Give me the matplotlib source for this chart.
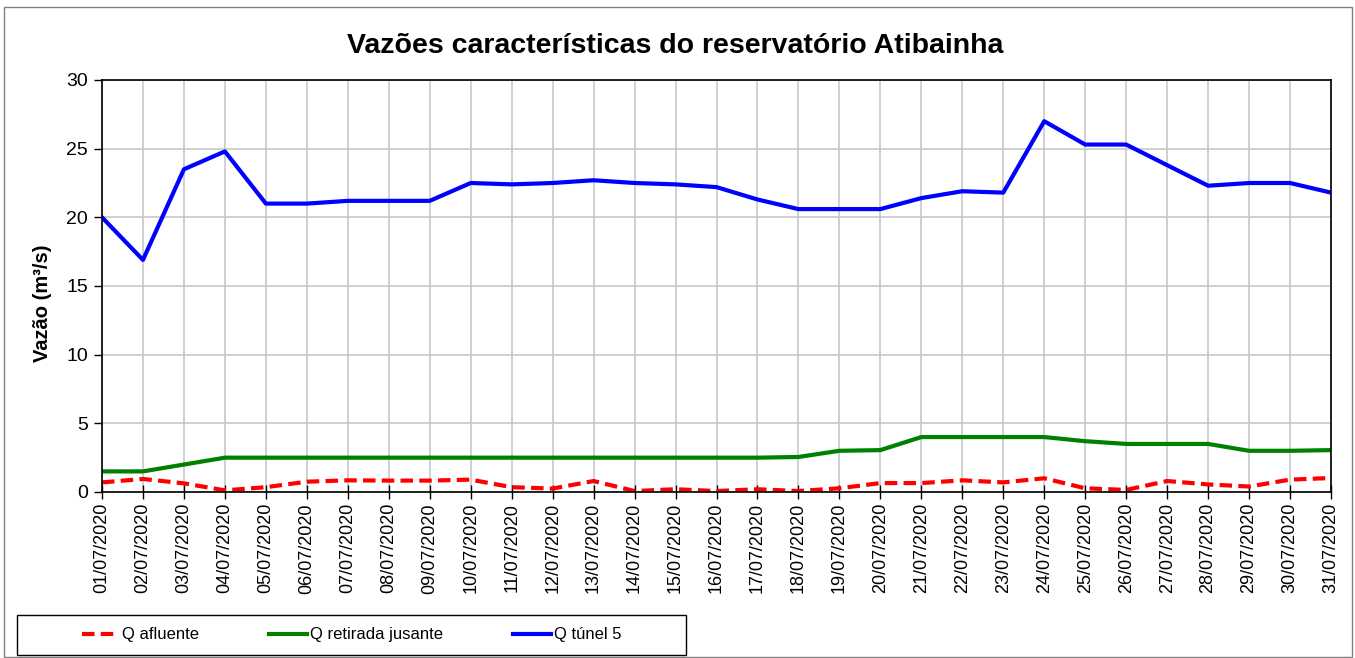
import matplotlib
matplotlib.use("Agg")
import matplotlib.pyplot as plt
from matplotlib.patches import Rectangle

dates = [f"{d:02d}/07/2020" for d in range(1, 32)]

q_afluente = [0.70, 0.95, 0.63, 0.12, 0.35, 0.75, 0.85, 0.83, 0.83, 0.90,
              0.35, 0.25, 0.80, 0.07, 0.20, 0.07, 0.20, 0.07, 0.27, 0.65,
              0.65, 0.85, 0.70, 1.00, 0.27, 0.15, 0.80, 0.55, 0.40, 0.90, 1.02]

q_retirada = [1.5, 1.5, 2.0, 2.5, 2.5, 2.5, 2.5, 2.5, 2.5, 2.5,
              2.5, 2.5, 2.5, 2.5, 2.5, 2.5, 2.5, 2.55, 3.0, 3.05,
              4.0, 4.0, 4.0, 4.0, 3.7, 3.5, 3.5, 3.5, 3.0, 3.0, 3.05]

q_tunel = [20.0, 16.9, 23.5, 24.8, 21.0, 21.0, 21.2, 21.2, 21.2, 22.5,
           22.4, 22.5, 22.7, 22.5, 22.4, 22.2, 21.3, 20.6, 20.6, 20.6,
           21.4, 21.9, 21.8, 27.0, 25.3, 25.3, 23.8, 22.3, 22.5, 22.5, 21.8]

series_labels = ["Q afluente", "Q retirada jusante", "Q túnel 5"]
title = "Vazões características do reservatório Atibainha"
ylabel = "Vazão (m³/s)"

plt.rcParams['font.family'] = ['Liberation Sans', 'DejaVu Sans']

W, H = 1355, 658
fig = plt.figure(figsize=(W / 100, H / 100), dpi=100)
fig.patch.set_facecolor("white")

# outer border
fig.patches.append(Rectangle((4 / W, 1 / H), 1348 / W, 650 / H, transform=fig.transFigure,
                             fill=False, edgecolor="#808080", linewidth=1.0))
# legend box
fig.patches.append(Rectangle((17 / W, 1 - 655 / H), (686 - 17) / W, 40 / H,
                             transform=fig.transFigure, fill=False,
                             edgecolor="black", linewidth=1.0, zorder=5))

ax = fig.add_axes([102 / W, 1 - 492 / H, (1331 - 102) / W, (492 - 80) / H])
x = list(range(len(dates)))

l1, = ax.plot(x, q_afluente, color="#ff0000", lw=3.0, linestyle=(0, (3.0, 1.5)),
              label=series_labels[0])
l2, = ax.plot(x, q_retirada, color="#008000", lw=3.0, label=series_labels[1])
l3, = ax.plot(x, q_tunel, color="#0000ff", lw=3.0, label=series_labels[2])

ax.set_xlim(0, len(dates) - 1)
ax.set_ylim(0, 30)
ax.set_yticks(range(0, 31, 5))
ax.set_xticks(x)
ax.set_xticklabels(dates, rotation=90, fontsize=13)
ax.tick_params(axis='y', labelsize=14, direction='out', length=6, width=1, pad=4)
ax.tick_params(axis='x', direction='inout', length=10, width=1, pad=3)
ax.grid(True, color="#c8c8c8", linewidth=1.2)
ax.set_axisbelow(True)
for s in ax.spines.values():
    s.set_color("#000000")
    s.set_linewidth(1.2)

ax.set_ylabel(ylabel, fontsize=14.5, fontweight='bold')
ax.yaxis.set_label_coords((52 - 102) / 1229, (492 - 303) / 412)
fig.text(675 / W, 1 - 53 / H, title, ha='center', va='baseline', fontsize=20.5,
         fontweight='bold')

leg = fig.legend(handles=[l1, l2, l3], labels=series_labels, loc='center',
                 bbox_to_anchor=(351.5 / W, 1 - 635 / H), ncol=3,
                 fontsize=12, frameon=False,
                 handlelength=2.25, handletextpad=0.2, columnspacing=4.2,
                 borderpad=0, borderaxespad=0)

fig.savefig("out.png", dpi=100, facecolor="white")
